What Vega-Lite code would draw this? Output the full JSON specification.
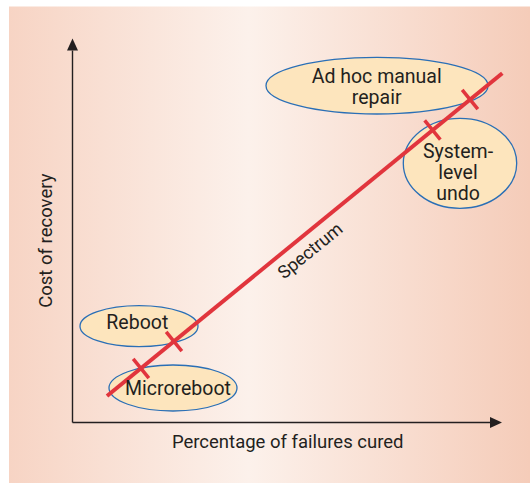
{
  "$schema": "https://vega.github.io/schema/vega-lite/v6.json",
  "width": 530,
  "height": 483,
  "padding": 0,
  "autosize": {"type": "none"},
  "background": "white",
  "config": {"view": {"stroke": null}},
  "datasets": {
    "panel": [{"x0": -63.5, "x1": 457.5, "y0": 416, "y1": -60.5}],
    "axes": [
      {"axis": "y", "x0": 0, "y0": 0, "x1": 0, "y1": 372},
      {"axis": "x", "x0": 0, "y0": 0, "x1": 419, "y1": 0}
    ],
    "arrows": [
      {"axis": "y", "x": 0, "y": 378},
      {"axis": "x", "x": 423.5, "y": 0}
    ],
    "regions": [
      {"name": "Reboot", "x": 66.5, "y": 96.3},
      {"name": "Microreboot", "x": 100.5, "y": 34.5},
      {"name": "Ad hoc manual repair", "x": 304.5, "y": 336.8},
      {"name": "System-level undo", "x": 387.5, "y": 259.2}
    ],
    "spectrum": [
      {"x": 34.5, "y": 26.5},
      {"x": 429.8, "y": 349.2}
    ],
    "techniques": [
      {"technique": "Microreboot", "x": 68.5, "y": 54},
      {"technique": "Reboot", "x": 101.5, "y": 81},
      {"technique": "System-level undo", "x": 360, "y": 292.5},
      {"technique": "Ad hoc manual repair", "x": 397.5, "y": 323}
    ],
    "labels": [
      {"text": "Reboot", "x": 64.8, "y": 99.2},
      {"text": "Microreboot", "x": 105.5, "y": 33.5},
      {"text": "Ad hoc manual\nrepair", "x": 304.2, "y": 345.2},
      {"text": "System-\nlevel\nundo", "x": 385.5, "y": 270.5}
    ]
  },
  "encoding": {
    "x": {"type": "quantitative", "scale": {"domain": [-72.5, 457.5], "nice": false, "zero": false}, "axis": null},
    "y": {"type": "quantitative", "scale": {"domain": [-60.5, 422.5], "nice": false, "zero": false}, "axis": null}
  },
  "resolve": {"scale": {"shape": "independent"}},
  "layer": [
    {
      "data": {"name": "panel"},
      "mark": {
        "type": "rect",
        "fill": {
          "gradient": "linear", "x1": 0, "y1": 0, "x2": 1, "y2": 0,
          "stops": [
            {"offset": 0, "color": "#f7d4c4"},
            {"offset": 0.46, "color": "#fcf1eb"},
            {"offset": 1, "color": "#f5ccb9"}
          ]
        }
      },
      "encoding": {
        "x": {"field": "x0", "type": "quantitative"},
        "x2": {"field": "x1"},
        "y": {"field": "y0", "type": "quantitative"},
        "y2": {"field": "y1"}
      }
    },
    {
      "data": {"name": "axes"},
      "mark": {"type": "rule", "color": "#231f20", "strokeWidth": 1.4},
      "encoding": {
        "x": {"field": "x0", "type": "quantitative"},
        "x2": {"field": "x1"},
        "y": {"field": "y0", "type": "quantitative"},
        "y2": {"field": "y1"}
      }
    },
    {
      "data": {"name": "arrows"},
      "mark": {"type": "point", "filled": true, "size": 4, "color": "#231f20", "opacity": 1},
      "encoding": {
        "x": {"field": "x", "type": "quantitative"},
        "y": {"field": "y", "type": "quantitative"},
        "shape": {
          "field": "axis", "type": "nominal", "legend": null,
          "scale": {"domain": ["y", "x"], "range": ["M0,-6L-5.5,6L5.5,6Z", "M6,0L-6,-5.5L-6,5.5Z"]}
        }
      }
    },
    {
      "data": {"name": "regions"},
      "mark": {"type": "point", "filled": true, "size": 4, "fill": "#fde5bd", "stroke": "#2a6fb6", "strokeWidth": 1.3, "opacity": 1, "fillOpacity": 1, "strokeOpacity": 1},
      "encoding": {
        "x": {"field": "x", "type": "quantitative"},
        "y": {"field": "y", "type": "quantitative"},
        "shape": {
          "field": "name", "type": "nominal", "legend": null,
          "scale": {
            "domain": ["Reboot", "Microreboot", "Ad hoc manual repair", "System-level undo"],
            "range": [
              "M-59,0C-59,-11.32,-32.59,-20.5,0,-20.5C32.59,-20.5,59,-11.32,59,0C59,11.32,32.59,20.5,0,20.5C-32.59,20.5,-59,11.32,-59,0Z",
              "M-64,0C-64,-12.7,-35.35,-23,0,-23C35.35,-23,64,-12.7,64,0C64,12.7,35.35,23,0,23C-35.35,23,-64,12.7,-64,0Z",
              "M-111,0C-111,-15.63,-61.31,-28.3,0,-28.3C61.31,-28.3,111,-15.63,111,0C111,15.63,61.31,28.3,0,28.3C-61.31,28.3,-111,15.63,-111,0Z",
              "M-56.7,0C-56.7,-24.85,-31.32,-45,0,-45C31.32,-45,56.7,-24.85,56.7,0C56.7,24.85,31.32,45,0,45C-31.32,45,-56.7,24.85,-56.7,0Z"
            ]
          }
        }
      }
    },
    {
      "data": {"name": "spectrum"},
      "mark": {"type": "line", "color": "#e1353d", "strokeWidth": 4, "strokeCap": "butt"},
      "encoding": {
        "x": {"field": "x", "type": "quantitative"},
        "y": {"field": "y", "type": "quantitative"}
      }
    },
    {
      "data": {"name": "techniques"},
      "mark": {"type": "point", "filled": false, "size": 4, "shape": "M-7.84,-9.61L7.84,9.61", "stroke": "#e1353d", "strokeWidth": 3.5, "opacity": 1},
      "encoding": {
        "x": {"field": "x", "type": "quantitative"},
        "y": {"field": "y", "type": "quantitative"}
      }
    },
    {
      "data": {"name": "labels"},
      "mark": {"type": "text", "font": "Roboto", "fontSize": 19.5, "lineBreak": "\n", "lineHeight": 21, "align": "center", "baseline": "middle", "color": "#231f20"},
      "encoding": {
        "x": {"field": "x", "type": "quantitative"},
        "y": {"field": "y", "type": "quantitative"},
        "text": {"field": "text"}
      }
    },
    {
      "data": {"values": [{"text": "Spectrum", "x": 238.3, "y": 171}]},
      "mark": {"type": "text", "font": "Roboto", "fontSize": 18, "angle": -39.2, "align": "center", "baseline": "middle", "color": "#231f20"},
      "encoding": {
        "x": {"field": "x", "type": "quantitative"},
        "y": {"field": "y", "type": "quantitative"},
        "text": {"field": "text"}
      }
    },
    {
      "data": {"values": [
        {"text": "Percentage of failures cured", "x": 215.2, "y": -19.2, "rot": 0},
        {"text": "Cost of recovery", "x": -26.5, "y": 181.8, "rot": -90}
      ]},
      "mark": {"type": "text", "font": "Roboto", "fontSize": 18.5, "align": "center", "baseline": "middle", "color": "#231f20"},
      "encoding": {
        "x": {"field": "x", "type": "quantitative"},
        "y": {"field": "y", "type": "quantitative"},
        "text": {"field": "text"},
        "angle": {"field": "rot", "type": "quantitative", "scale": null}
      }
    }
  ]
}
